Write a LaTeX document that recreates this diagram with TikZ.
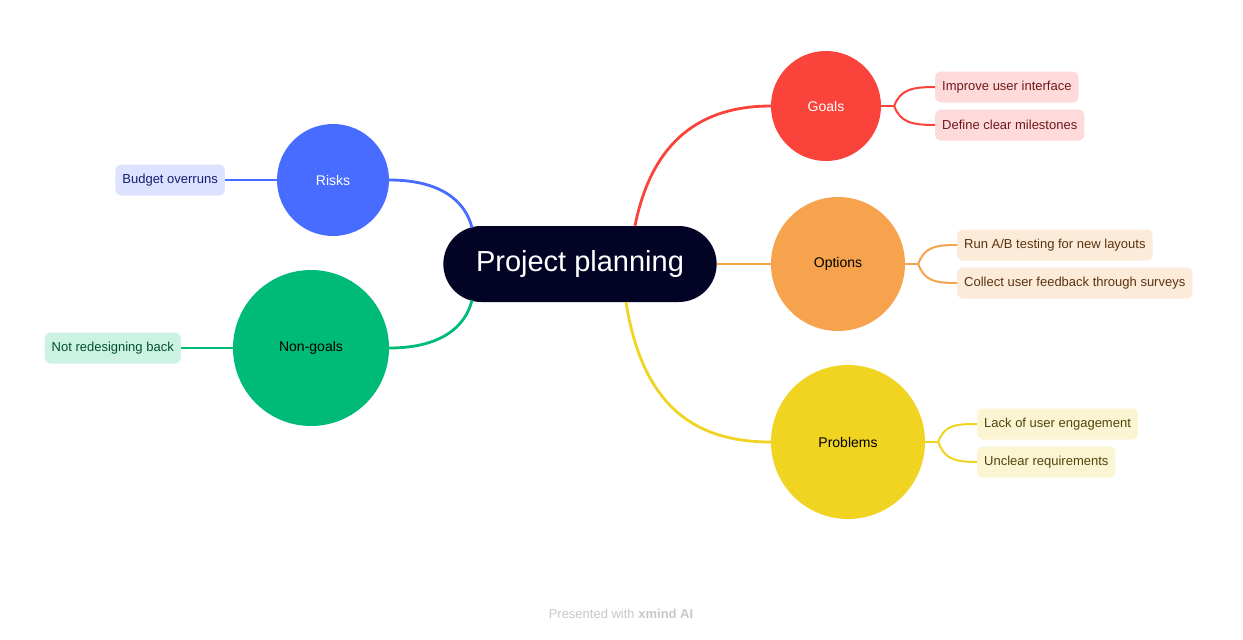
\documentclass[tikz,border=0pt]{standalone}
\usepackage{fontspec}
\setmainfont{Liberation Sans}
\usetikzlibrary{shapes.misc,calc}
\definecolor{hubc}{RGB}{3,3,38}
\definecolor{goalc}{RGB}{250,67,58}
\definecolor{optc}{RGB}{247,162,76}
\definecolor{probc}{RGB}{241,212,34}
\definecolor{riskc}{RGB}{72,108,255}
\definecolor{nongc}{RGB}{0,187,120}
\definecolor{goalsoft}{RGB}{255,218,218}
\definecolor{optsoft}{RGB}{253,235,218}
\definecolor{probsoft}{RGB}{251,245,212}
\definecolor{risksoft}{RGB}{220,226,255}
\definecolor{nongsoft}{RGB}{204,242,226}
\definecolor{goaltext}{RGB}{110,25,25}
\definecolor{opttext}{RGB}{90,50,15}
\definecolor{probtext}{RGB}{80,70,10}
\definecolor{risktext}{RGB}{20,30,110}
\definecolor{nongtext}{RGB}{0,80,50}
\definecolor{footc}{RGB}{200,200,200}
\begin{document}
\begin{tikzpicture}[x=1pt,y=-1pt,
  topic/.style={circle, inner sep=0pt, font=\fontsize{14}{16}\selectfont},
  leaf/.style={rectangle, rounded corners=6pt, minimum height=31pt, inner xsep=7pt, font=\fontsize{13}{15}\selectfont},
  mainline/.style={line width=2.8pt},
  subline/.style={line width=2pt}]
\useasboundingbox[fill=white] (0,0) rectangle (1243,640);

\node[rounded rectangle, fill=hubc, minimum width=280pt, minimum height=76pt, text=white, font=\fontsize{29}{33}\selectfont] (hub) at (580,264) {Project planning};

\node[topic, fill=goalc, minimum size=110pt, text=white] (goals) at (826,106) {Goals};
\node[topic, fill=optc, minimum size=134pt, text=black] (options) at (838,264) {Options};
\node[topic, fill=probc, minimum size=154pt, text=black] (problems) at (848,442) {Problems};
\node[topic, fill=riskc, minimum size=112pt, text=white] (risks) at (333,180) {Risks};
\node[topic, fill=nongc, minimum size=156pt, text=black] (nongoals) at (311,348) {Non-goals};

\node[leaf, fill=goalsoft, text=goaltext, anchor=west] (g1) at (935,87) {Improve user interface};
\node[leaf, fill=goalsoft, text=goaltext, anchor=west] (g2) at (935,125) {Define clear milestones};
\node[leaf, fill=optsoft, text=opttext, anchor=west] (o1) at (957,245) {Run A/B testing for new layouts};
\node[leaf, fill=optsoft, text=opttext, anchor=west] (o2) at (957,283) {Collect user feedback through surveys};
\node[leaf, fill=probsoft, text=probtext, anchor=west] (p1) at (977,424) {Lack of user engagement};
\node[leaf, fill=probsoft, text=probtext, anchor=west] (p2) at (977,462) {Unclear requirements};
\node[leaf, fill=risksoft, text=risktext, anchor=east] (r1) at (225,180) {Budget overruns};
\node[leaf, fill=nongsoft, text=nongtext, anchor=east] (n1) at (181,348) {Not redesigning back};

% main branches
\draw[mainline, goalc] ($(hub.north)+(55,0)$) .. controls ($(hub.north)+(72,-85)$) and ($(goals.west)+(-70,0)$) .. (goals.west);
\draw[mainline, optc] (hub.east) -- (options.west);
\draw[mainline, probc] ($(hub.south)+(46,0)$) .. controls ($(hub.south)+(62,100)$) and ($(problems.west)+(-80,0)$) .. (problems.west);
\draw[mainline, riskc] ($(hub.north)+(-108,2)$) .. controls ($(hub.north)+(-115,-26)$) and ($(risks.east)+(50,0)$) .. (risks.east);
\draw[mainline, nongc] ($(hub.south)+(-108,-2)$) .. controls ($(hub.south)+(-115,26)$) and ($(nongoals.east)+(50,0)$) .. (nongoals.east);

% sub branches
\coordinate (gb) at ($(goals.east)+(13,0)$);
\draw[subline, goalc] (goals.east) -- (gb);
\draw[subline, goalc] (gb) .. controls ($(gb)+(6,-16)$) and ($(g1.west)+(-24,0)$) .. (g1.west);
\draw[subline, goalc] (gb) .. controls ($(gb)+(6,16)$) and ($(g2.west)+(-24,0)$) .. (g2.west);

\coordinate (ob) at ($(options.east)+(13,0)$);
\draw[subline, optc] (options.east) -- (ob);
\draw[subline, optc] (ob) .. controls ($(ob)+(6,-16)$) and ($(o1.west)+(-24,0)$) .. (o1.west);
\draw[subline, optc] (ob) .. controls ($(ob)+(6,16)$) and ($(o2.west)+(-24,0)$) .. (o2.west);

\coordinate (pb) at ($(problems.east)+(13,0)$);
\draw[subline, probc] (problems.east) -- (pb);
\draw[subline, probc] (pb) .. controls ($(pb)+(6,-16)$) and ($(p1.west)+(-24,0)$) .. (p1.west);
\draw[subline, probc] (pb) .. controls ($(pb)+(6,16)$) and ($(p2.west)+(-24,0)$) .. (p2.west);

\draw[subline, riskc] (risks.west) -- (r1.east);
\draw[subline, nongc] (nongoals.west) -- (n1.east);

\node[text=footc, font=\fontsize{13}{15}\selectfont] (foot) at (621,614) {Presented with \textbf{xmind AI}};
\end{tikzpicture}
\end{document}
